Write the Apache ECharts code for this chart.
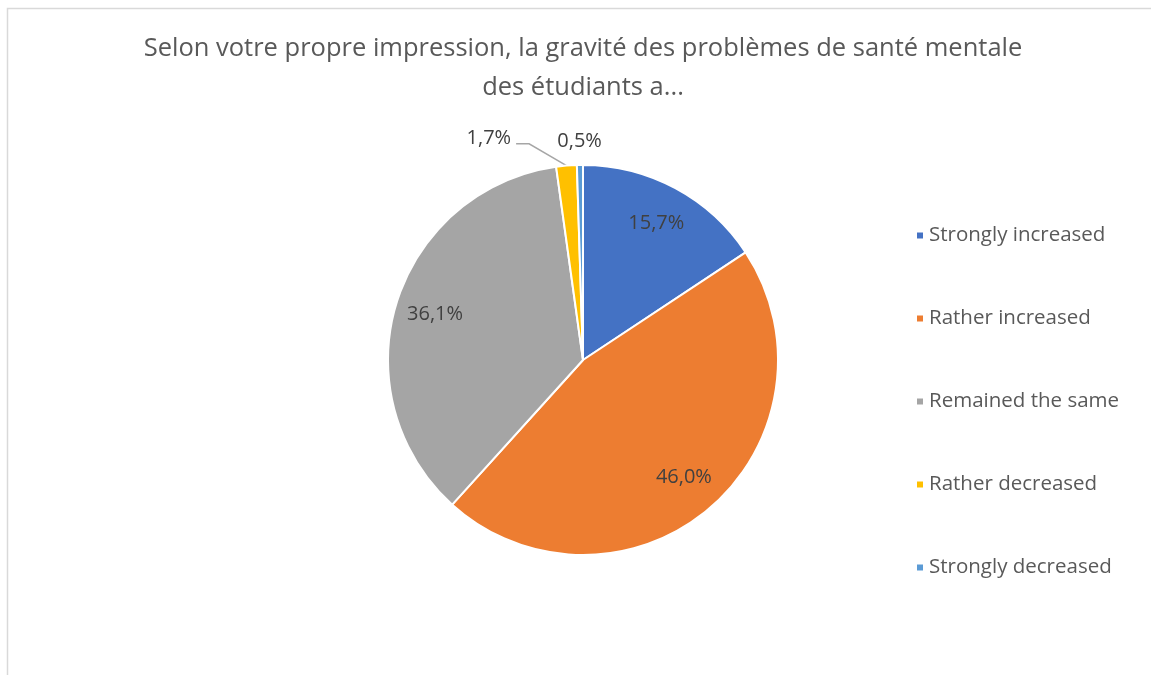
<!DOCTYPE html>
<html>
<head>
<meta charset="utf-8">
<script src="https://cdn.jsdelivr.net/npm/echarts@6/dist/echarts.min.js"></script>
<style>
  html, body { margin: 0; padding: 0; background: #fff; }
  #chart { width: 1151px; height: 675px; }
</style>
</head>
<body>
<div id="chart"></div>
<script>
// données du graphique
var titre = 'Selon votre propre impression, la gravité des problèmes de santé mentale\ndes étudiants a...';
var categories = ['Strongly increased', 'Rather increased', 'Remained the same', 'Rather decreased', 'Strongly decreased'];
var valeurs = [15.7, 46.0, 36.1, 1.7, 0.5];
var couleurs = ['#4472C4', '#ED7D31', '#A5A5A5', '#FFC000', '#5B9BD5'];

var police = '"Open Sans", "Liberation Sans", sans-serif';
var cx = 583, cy = 360, rayon = 195;

// angle milieu de chaque part (depuis midi, sens horaire)
var total = valeurs.reduce(function (a, b) { return a + b; }, 0);
var anglesMilieu = [];
var cumul = 0;
valeurs.forEach(function (v) {
    anglesMilieu.push((cumul + v / 2) / total * 2 * Math.PI);
    cumul += v;
});

var donnees = [];
for (var i = 0; i < categories.length; i++) {
    var item = { name: categories[i], value: valeurs[i], itemStyle: { color: couleurs[i] } };
    // les petites parts : étiquette à l'extérieur
    if (i === 3) {
        item.label = { position: 'outside' };
        item.labelLine = { show: true, length: 28, length2: 48, lineStyle: { color: '#A6A6A6', width: 1.5 } };
    }
    if (i === 4) {
        item.label = { position: 'outside' };
        item.labelLine = { show: false, length: 24, length2: 0 };
    }
    donnees.push(item);
}

var myChart = echarts.init(document.getElementById('chart'));
var option = {
    backgroundColor: '#fff',
    animation: false,
    title: {
        text: titre,
        left: cx - 5,
        textAlign: 'center',
        top: 24,
        textStyle: {
            fontFamily: police,
            fontSize: 25.5,
            fontWeight: 'normal',
            color: '#595959',
            lineHeight: 39
        }
    },
    legend: {
        orient: 'vertical',
        left: 910,
        top: 220,
        itemWidth: 8,
        itemHeight: 8,
        itemGap: 62,
        icon: 'rect',
        data: categories,
        textStyle: {
            fontFamily: police,
            fontSize: 20.5,
            lineHeight: 20,
            color: '#595959',
            padding: [0, 0, 0, 0]
        }
    },
    graphic: [{
        type: 'rect',
        shape: { x: 7.5, y: 8.5, width: 1200, height: 700 },
        style: { fill: 'none', stroke: '#D9D9D9', lineWidth: 1.5 },
        silent: true
    }],
    series: [{
        type: 'pie',
        center: [cx, cy],
        radius: rayon,
        startAngle: 90,
        clockwise: true,
        avoidLabelOverlap: false,
        itemStyle: { borderColor: '#fff', borderWidth: 2 },
        label: {
            show: true,
            position: 'inside',
            fontFamily: police,
            fontSize: 20,
            color: '#404040',
            formatter: function (p) {
                return p.value.toFixed(1).replace('.', ',') + '%';
            }
        },
        emphasis: { disabled: true },
        // repousser les étiquettes intérieures vers le bord
        labelLayout: function (p) {
            var r = p.labelRect;
            var lx = r.x + r.width / 2, ly = r.y + r.height / 2;
            if (p.dataIndex < 3) {
                return { dx: (lx - cx) * 0.54, dy: (ly - cy) * 0.54 };
            }
            if (p.dataIndex === 3) {
                // trait oblique depuis le bord de la part puis horizontal
                var a = anglesMilieu[3];
                var ex = cx + rayon * Math.sin(a), ey = cy - rayon * Math.cos(a);
                var bx = r.x + r.width, by = ly + 6;
                return {
                    labelLinePoints: [[ex, ey], [bx + 18, by], [bx + 5, by]]
                };
            }
            if (p.dataIndex === 4) {
                return { dx: r.width / 2 + 5 };
            }
            return {};
        },
        data: donnees
    }]
};
myChart.setOption(option);
</script>
</body>
</html>
